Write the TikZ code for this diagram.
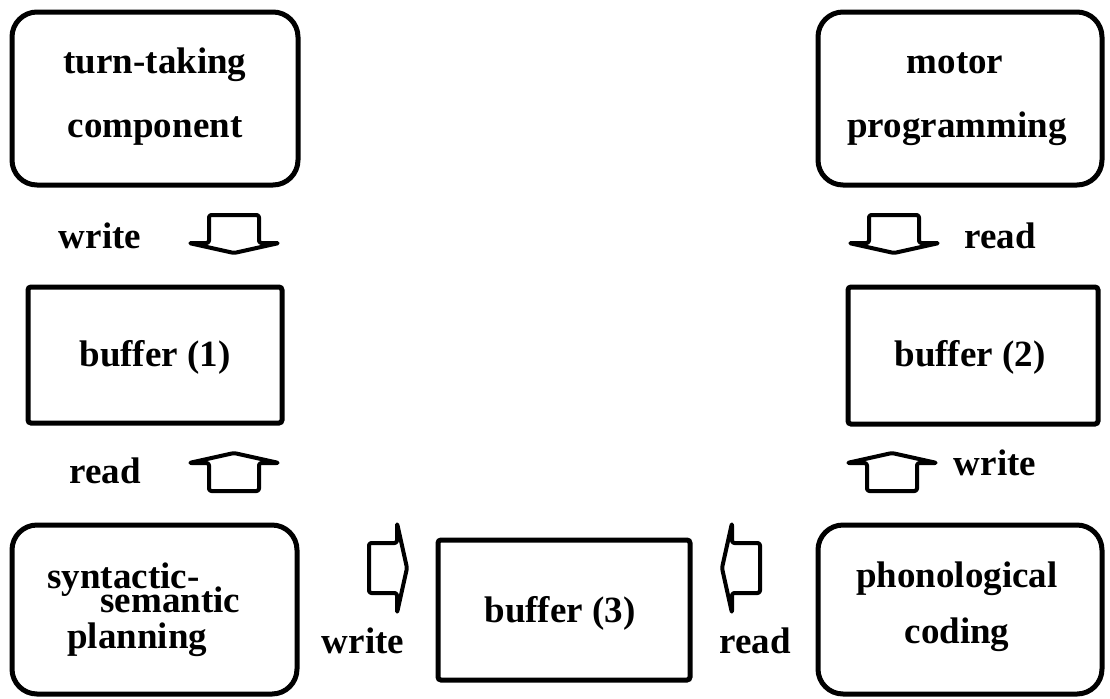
\documentclass[tikz,border=0pt]{standalone}
\usepackage{fontspec}
\setmainfont{Liberation Serif}
\usetikzlibrary{fit}
\tikzset{
  roundbox/.style={draw, line width=2.5pt, rounded corners=12.5pt, inner sep=0pt},
  sqbox/.style={draw, line width=2.5pt, rounded corners=1.5pt, inner sep=0pt},
  lbl/.style={font=\fontsize{18.5}{22}\selectfont\bfseries, anchor=base, inner sep=0pt},
  lbll/.style={lbl, anchor=base west},
  % hollow block arrow pointing down; origin at the centre of the head's base
  blockarrow/.pic={
    \draw[line width=2pt, line join=round, rounded corners=1.2pt]
      (-25,0) -- (-25,-28) -- (25,-28) -- (25,0) -- (45,0) -- (0,10) -- (-45,0) -- cycle;
  }
}
\begin{document}
\begin{tikzpicture}[x=0.5pt, y=-0.5pt]
  \useasboundingbox (0,0) rectangle (1110,698);

  % processing components
  \node[roundbox, fit={(12,12)(298,185)}] (turn) {};
  \node[roundbox, fit={(818,12)(1102,185)}] (motor) {};
  \node[roundbox, fit={(12,525)(297,694)}] (syn) {};
  \node[roundbox, fit={(818,525)(1102,694)}] (phon) {};

  % buffers
  \node[sqbox, fit={(28,287)(282,423)}] (buf1) {};
  \node[sqbox, fit={(848,287)(1098,424)}] (buf2) {};
  \node[sqbox, fit={(438,540)(690,680)}] (buf3) {};

  % component texts
  \node[lbl] (turnA) at (155,73) {turn-taking};
  \node[lbl] (turnB) at (155,137) {component};
  \node[lbl] (motorA) at (955,73) {motor};
  \node[lbl] (motorB) at (957,137) {programming};
  \node[lbll] (synA) at (47,588) {syntactic-};
  \node[lbll] (synB) at (100,612) {semantic};
  \node[lbll] (synC) at (67,648) {planning};
  \node[lbl] (phonA) at (957,587) {phonological};
  \node[lbl] (phonB) at (957,643) {coding};

  % buffer texts
  \node[lbl] (buf1t) at (155,366) {buffer (1)};
  \node[lbl] (buf2t) at (970,366) {buffer (2)};
  \node[lbl] (buf3t) at (560,622) {buffer (3)};

  % read / write arrows
  \path (234,243) pic {blockarrow};
  \path (894,243) pic {blockarrow};
  \path (234,463) pic[rotate=180] {blockarrow};
  \path (892,463) pic[rotate=180] {blockarrow};
  \path (397,568) pic[rotate=90] {blockarrow};
  \path (732,568) pic[rotate=-90] {blockarrow};

  % arrow labels
  \node[lbl] (w1) at (100,248) {write};
  \node[lbl] (r2) at (1000,248) {read};
  \node[lbl] (r1) at (105,483) {read};
  \node[lbl] (w2) at (995,475) {write};
  \node[lbl] (w3) at (363,653) {write};
  \node[lbl] (r3) at (755,653) {read};
\end{tikzpicture}
\end{document}
